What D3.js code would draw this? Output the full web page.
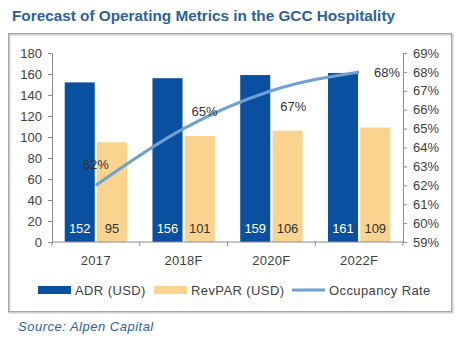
<!DOCTYPE html>
<html>
<head>
<meta charset="utf-8">
<script src="https://cdn.jsdelivr.net/npm/d3@7"></script>
<style>
  body { margin: 0; background: #fff; }
  svg { display: block; font-family: "Liberation Sans", Arial, sans-serif; }
</style>
</head>
<body>
<div id="chart"></div>
<script>
// Data
const years = ["2017", "2018F", "2020F", "2022F"];
const adr = [152, 156, 159, 161];
const revpar = [95, 101, 106, 109];
const occupancy = [62, 65, 67, 68];
const leftTicks = [0, 20, 40, 60, 80, 100, 120, 140, 160, 180];
const rightTicks = [59, 60, 61, 62, 63, 64, 65, 66, 67, 68, 69];

const W = 456, H = 342;
const m = { left: 52, right: 403, top: 53, bottom: 242 };
const colors = { adr: "#0a50a1", revpar: "#fad38e", occ: "#6fa1d3", axis: "#8c8c8c", text: "#404040" };

const svg = d3.select("#chart").append("svg")
  .attr("width", W)
  .attr("height", H);

// Title
svg.append("text")
  .attr("x", 12).attr("y", 21)
  .attr("font-size", 15).attr("font-weight", "bold")
  .attr("fill", "#2f619c")
  .attr("textLength", 383).attr("lengthAdjust", "spacingAndGlyphs")
  .text("Forecast of Operating Metrics in the GCC Hospitality");

// Frame
svg.append("rect")
  .attr("x", 9.5).attr("y", 34.5)
  .attr("width", 443).attr("height", 278)
  .attr("fill", "none").attr("stroke", "#d0d0d0").attr("stroke-width", 2);
svg.append("rect")
  .attr("x", 8.5).attr("y", 33.5)
  .attr("width", 443).attr("height", 278)
  .attr("fill", "none").attr("stroke", "#a6a6a6").attr("stroke-width", 1);

// Scales
const x0 = d3.scaleBand().domain(years).range([m.left, m.right]).padding(0);
const x1 = d3.scaleBand().domain(["adr", "revpar"])
  .range([x0.bandwidth() * 0.145, x0.bandwidth() * 0.855]).paddingInner(0.07);
const y = d3.scaleLinear().domain([0, 180]).range([m.bottom, m.top]);
const y2 = d3.scaleLinear().domain([59, 69]).range([m.bottom, m.top]);

const rows = years.map((yr, i) => ({ year: yr, adr: adr[i], revpar: revpar[i], occ: occupancy[i] }));

// Bars
const groups = svg.append("g").selectAll("g").data(rows).enter()
  .append("g")
  .attr("transform", d => `translate(${x0(d.year)},0)`);

groups.selectAll("rect")
  .data(d => [{ key: "adr", v: d.adr }, { key: "revpar", v: d.revpar }])
  .enter().append("rect")
  .attr("x", d => x1(d.key))
  .attr("width", x1.bandwidth())
  .attr("y", d => y(d.v))
  .attr("height", d => y(0) - y(d.v))
  .attr("fill", d => colors[d.key]);

groups.selectAll("text")
  .data(d => [{ key: "adr", v: d.adr }, { key: "revpar", v: d.revpar }])
  .enter().append("text")
  .attr("x", d => x1(d.key) + x1.bandwidth() / 2)
  .attr("y", y(0) - 9)
  .attr("text-anchor", "middle")
  .attr("font-size", 13)
  .attr("fill", d => d.key === "adr" ? "#ffffff" : "#333333")
  .text(d => d.v);

// Axes
const axisStyle = g => {
  g.selectAll(".domain").attr("stroke", colors.axis);
  g.selectAll(".tick line").attr("stroke", colors.axis);
  g.selectAll(".tick text").attr("fill", colors.text).attr("font-size", 13)
    .attr("font-family", "'Liberation Sans', Arial, sans-serif");
};

svg.append("g")
  .attr("transform", `translate(${m.left},0)`)
  .call(d3.axisLeft(y).tickValues(leftTicks).tickSize(4).tickSizeOuter(0).tickPadding(6))
  .call(axisStyle);

svg.append("g")
  .attr("transform", `translate(${m.right},0)`)
  .call(d3.axisRight(y2).tickValues(rightTicks).tickSize(4).tickSizeOuter(0).tickPadding(6)
    .tickFormat(d => d + "%"))
  .call(axisStyle);

// x axis: ticks at category boundaries, labels at centers
const xAxis = svg.append("g").attr("transform", `translate(0,${m.bottom})`);
xAxis.append("line")
  .attr("x1", m.left).attr("x2", m.right)
  .attr("stroke", colors.axis);
xAxis.selectAll("line.b").data(years.concat(["end"])).enter()
  .append("line")
  .attr("class", "b")
  .attr("x1", (d, i) => m.left + i * x0.bandwidth())
  .attr("x2", (d, i) => m.left + i * x0.bandwidth())
  .attr("y1", 0).attr("y2", 4)
  .attr("stroke", colors.axis);
xAxis.selectAll("text").data(years).enter()
  .append("text")
  .attr("x", d => x0(d) + x0.bandwidth() / 2)
  .attr("y", 23)
  .attr("text-anchor", "middle")
  .attr("font-size", 13)
  .attr("letter-spacing", 0.3)
  .attr("fill", colors.text)
  .text(d => d);

// Occupancy line
const line = d3.line()
  .x(d => x0(d.year) + x0.bandwidth() / 2)
  .y(d => y2(d.occ))
  .curve(d3.curveMonotoneX);

svg.append("path")
  .datum(rows)
  .attr("d", line)
  .attr("fill", "none")
  .attr("stroke", colors.occ)
  .attr("stroke-width", 3);

// Label offsets relative to each point
const occOffsets = [[0, -16], [21, -13], [22, 20], [28, 5]];
svg.append("g").selectAll("text").data(rows).enter()
  .append("text")
  .attr("x", (d, i) => x0(d.year) + x0.bandwidth() / 2 + occOffsets[i][0])
  .attr("y", (d, i) => y2(d.occ) + occOffsets[i][1])
  .attr("text-anchor", "middle")
  .attr("font-size", 13)
  .attr("fill", "#333333")
  .text(d => d.occ + "%");

// Legend
const legendItems = [
  { label: "ADR (USD)", type: "bar", color: colors.adr, x: 38 },
  { label: "RevPAR (USD)", type: "bar", color: colors.revpar, x: 154 },
  { label: "Occupancy Rate", type: "line", color: colors.occ, x: 292 }
];
const legend = svg.append("g").attr("transform", "translate(0,290)");
legendItems.forEach(it => {
  if (it.type === "bar") {
    legend.append("rect").attr("x", it.x).attr("y", -4).attr("width", 33).attr("height", 8).attr("fill", it.color);
  } else {
    legend.append("line").attr("x1", it.x).attr("x2", it.x + 33).attr("y1", 0).attr("y2", 0)
      .attr("stroke", it.color).attr("stroke-width", 3);
  }
  legend.append("text")
    .attr("x", it.x + 37).attr("y", 4.5)
    .attr("font-size", 13)
    .attr("letter-spacing", 0.4)
    .attr("fill", colors.text)
    .text(it.label);
});

// Source
svg.append("text")
  .attr("x", 18).attr("y", 331)
  .attr("font-size", 13).attr("font-style", "italic")
  .attr("letter-spacing", 0.5)
  .attr("fill", "#2f619c")
  .text("Source: Alpen Capital");
</script>
</body>
</html>
